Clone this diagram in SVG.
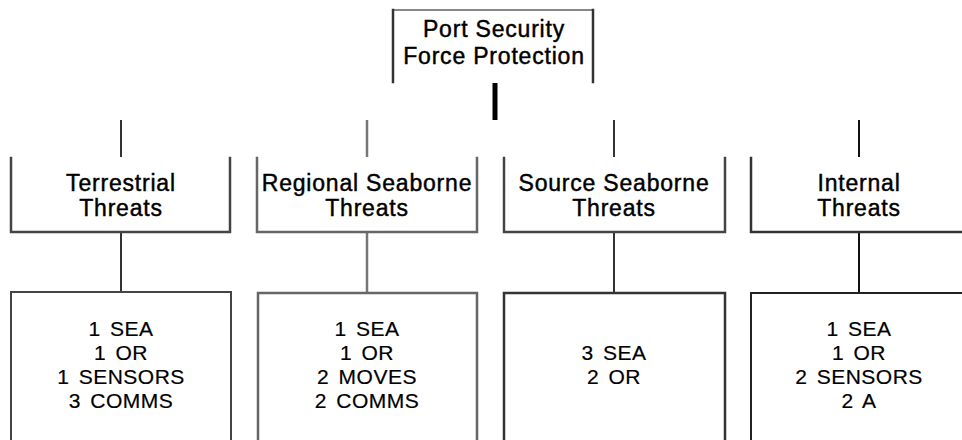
<svg xmlns="http://www.w3.org/2000/svg" width="962" height="440" viewBox="0 0 962 440">
<style>
text{font-family:"Liberation Sans",Arial,sans-serif;fill:#000;stroke:#000;stroke-width:0.45px;text-anchor:middle}
.t{font-size:23px;letter-spacing:0.8px}
.b{font-size:21px;letter-spacing:0.5px;word-spacing:3px;stroke-width:0.2px}
.e{fill:none;stroke-linecap:square}
</style>
<rect width="962" height="440" fill="#fff"/>
<g id="connectors" fill="none">
<line x1="495" y1="83" x2="495" y2="120" stroke="#000" stroke-width="5"/>
<line x1="121" y1="120" x2="121" y2="157" stroke="#333" stroke-width="2"/>
<line x1="367" y1="120" x2="367" y2="157" stroke="#777" stroke-width="2.5"/>
<line x1="614" y1="120" x2="614" y2="157" stroke="#333" stroke-width="2"/>
<line x1="859" y1="120" x2="859" y2="157" stroke="#111" stroke-width="2"/>
<line x1="121" y1="233" x2="121" y2="292" stroke="#333" stroke-width="2"/>
<line x1="367" y1="233" x2="367" y2="292" stroke="#777" stroke-width="2.5"/>
<line x1="614" y1="233" x2="614" y2="292" stroke="#333" stroke-width="2"/>
<line x1="859" y1="233" x2="859" y2="292" stroke="#111" stroke-width="2"/>
</g>
<g id="root">
<line x1="393" y1="10" x2="593" y2="10" stroke="#888" stroke-width="2"/>
<polyline class="e" points="393,10 393,82" stroke="#333" stroke-width="2.5"/>
<polyline class="e" points="593,10 593,82" stroke="#333" stroke-width="2.5"/>
<text class="t" x="494" y="37">Port Security</text>
<text class="t" x="494" y="64">Force Protection</text>
</g>
<g id="terrestrial">
<polyline class="e" points="11,158 11,232 230,232 230,158" stroke="#444" stroke-width="2.5"/>
<text class="t" x="121" y="191">Terrestrial</text>
<text class="t" x="121" y="216">Threats</text>
</g>
<g id="regional">
<polyline class="e" points="257,158 257,232 477,232 477,158" stroke="#666" stroke-width="2.5"/>
<text class="t" x="367" y="191">Regional Seaborne</text>
<text class="t" x="367" y="216">Threats</text>
</g>
<g id="source">
<polyline class="e" points="504,158 504,232 725,232 725,158" stroke="#444" stroke-width="2.5"/>
<text class="t" x="614" y="191">Source Seaborne</text>
<text class="t" x="614" y="216">Threats</text>
</g>
<g id="internal">
<polyline class="e" points="751,158 751,232 970,232" stroke="#333" stroke-width="2.5"/>
<text class="t" x="859" y="191">Internal</text>
<text class="t" x="859" y="216">Threats</text>
</g>
<g id="terrestrial-assets">
<polyline class="e" points="11,445 11,292 231,292 231,445" stroke="#444" stroke-width="2"/>
<text class="b" x="121" y="336">1 SEA</text>
<text class="b" x="121" y="360">1 OR</text>
<text class="b" x="121" y="384">1 SENSORS</text>
<text class="b" x="121" y="408">3 COMMS</text>
</g>
<g id="regional-assets">
<polyline class="e" points="258,445 258,293 477,293 477,445" stroke="#666" stroke-width="2.5"/>
<text class="b" x="367" y="336">1 SEA</text>
<text class="b" x="367" y="360">1 OR</text>
<text class="b" x="367" y="384">2 MOVES</text>
<text class="b" x="367" y="408">2 COMMS</text>
</g>
<g id="source-assets">
<polyline class="e" points="504,445 504,293 725,293 725,445" stroke="#333" stroke-width="2.5"/>
<text class="b" x="614" y="360">3 SEA</text>
<text class="b" x="614" y="384">2 OR</text>
</g>
<g id="internal-assets">
<polyline class="e" points="751,445 751,293 970,293" stroke="#222" stroke-width="2"/>
<text class="b" x="859" y="336">1 SEA</text>
<text class="b" x="859" y="360">1 OR</text>
<text class="b" x="859" y="384">2 SENSORS</text>
<text class="b" x="859" y="408">2 A</text>
</g>
</svg>
